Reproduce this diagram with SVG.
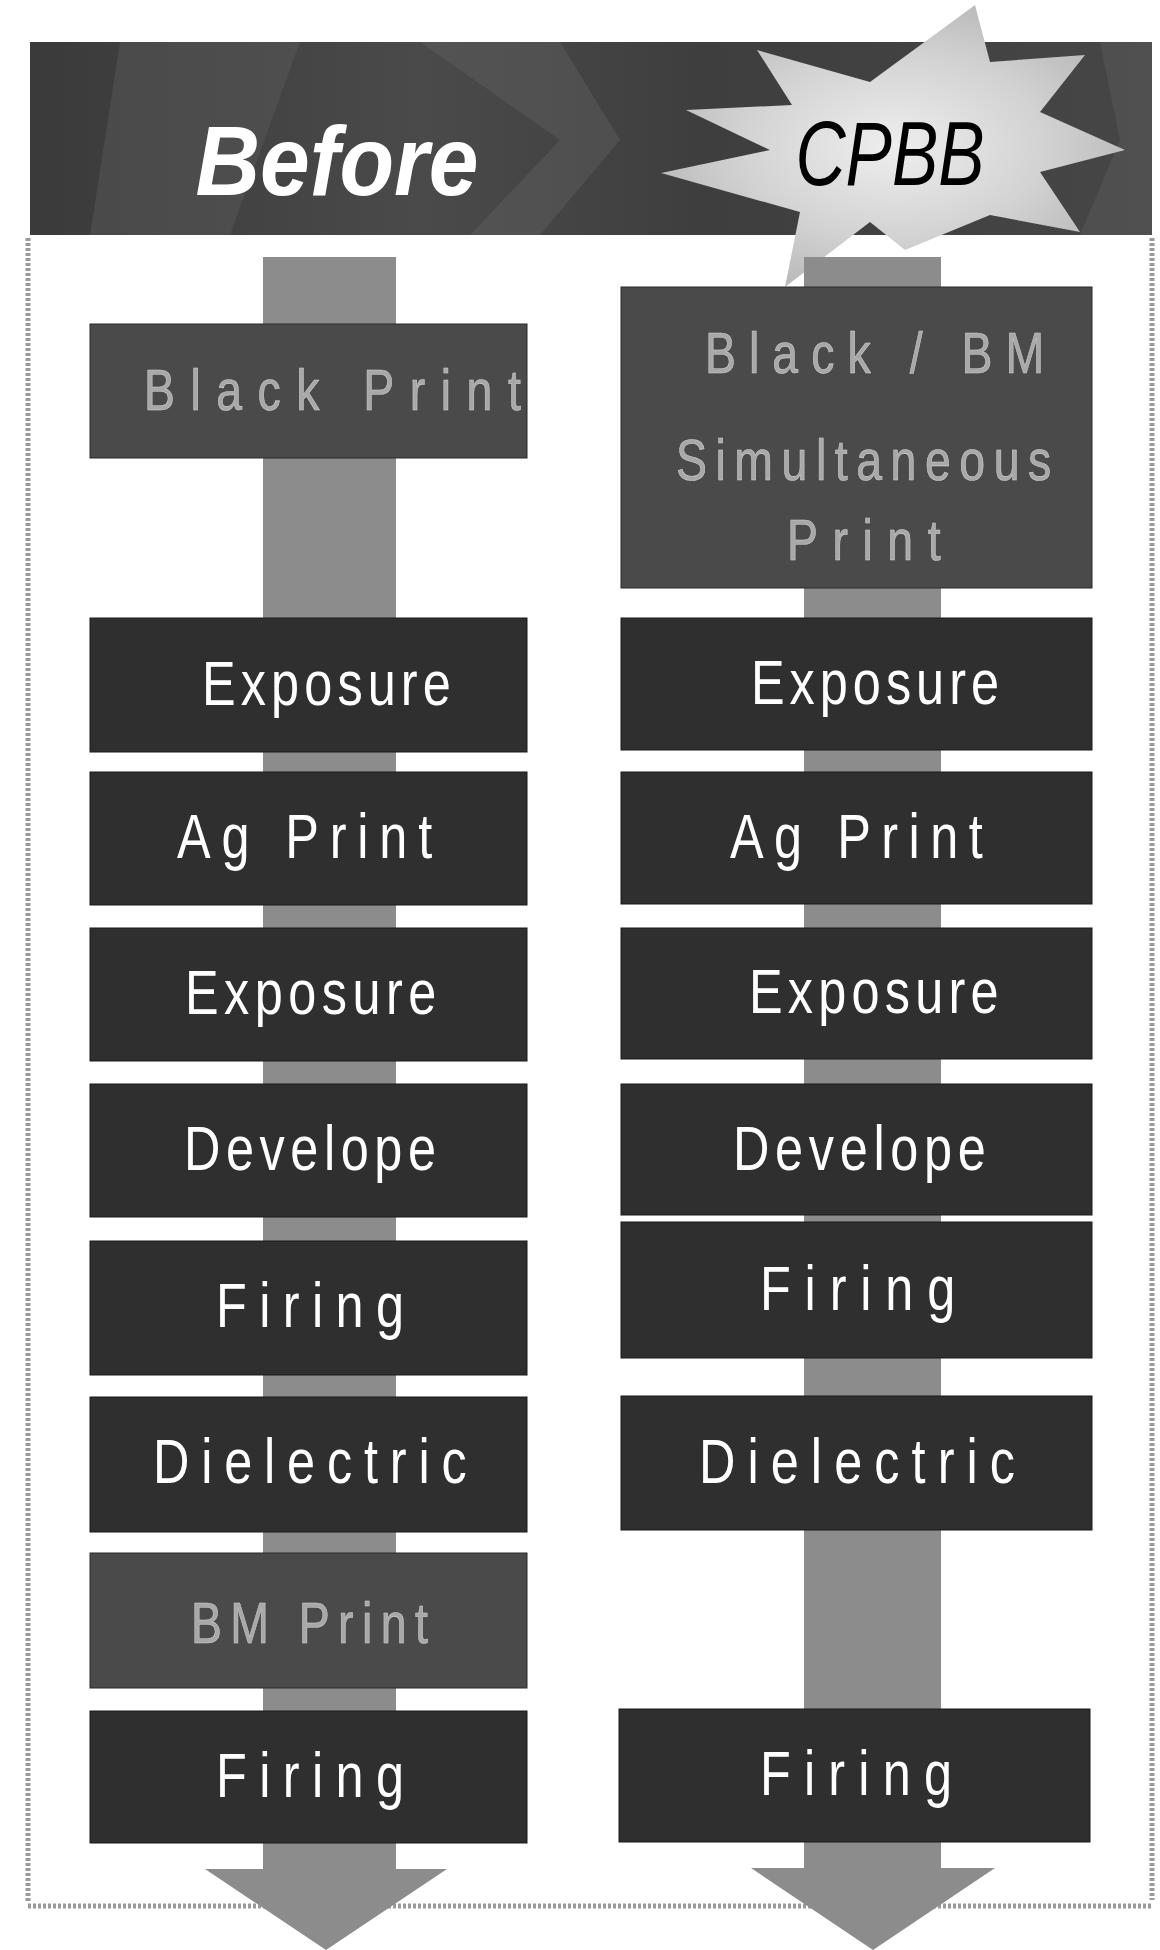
<svg xmlns="http://www.w3.org/2000/svg" width="1160" height="1950" viewBox="0 0 1160 1950">
<style>
.box{fill:#2f2f2f;stroke:#1a1a1a;stroke-width:1}
.dimbox{fill:#4a4a4a;stroke:#2a2a2a;stroke-width:1}
.lbl{font-family:"Liberation Sans","DejaVu Sans",sans-serif;font-size:63px;fill:#ffffff}
.dim{font-family:"Liberation Sans","DejaVu Sans",sans-serif;font-size:58px;fill:#a8a8a8;stroke:#d0d0d0;stroke-width:0.6}
.shaft{fill:#8c8c8c}
.border{fill:none;stroke:#9a9a9a;stroke-width:5;stroke-dasharray:3 2}
</style>
<defs>
<radialGradient id="starG" cx="0.5" cy="0.5" r="0.55">
<stop offset="0" stop-color="#eeeeee"/>
<stop offset="0.6" stop-color="#d2d2d2"/>
<stop offset="1" stop-color="#b8b8b8"/>
</radialGradient>
<linearGradient id="bandG" x1="0" y1="0" x2="1" y2="0">
<stop offset="0" stop-color="#3a3a3a"/>
<stop offset="0.35" stop-color="#4a4a4a"/>
<stop offset="0.6" stop-color="#3e3e3e"/>
<stop offset="1" stop-color="#464646"/>
</linearGradient>
</defs>

<g id="frame">
<path class="border" d="M28,238 L28,1903 M1152,238 L1152,1900 M28,1906 L1152,1906"/>
</g>

<g id="header">
<rect x="30" y="42" width="1122" height="193" fill="url(#bandG)"/>
<polygon points="120,42 300,42 230,235 90,235" fill="#5a5a5a" opacity="0.45"/>
<polygon points="420,42 560,42 620,140 540,235 470,235 560,140" fill="#666" opacity="0.35"/>
<polygon points="1100,42 1152,42 1152,235 1080,235 1120,140" fill="#5e5e5e" opacity="0.4"/>
<polygon points="975,5 990,62 1085,55 1040,112 1125,150 1040,172 1080,232 990,215 905,250 870,222 785,287 800,212 661,173 770,150 686,110 792,105 757,50 870,82" fill="url(#starG)"/>
<text x="337" y="195" text-anchor="middle" font-family="'Liberation Sans',sans-serif" font-weight="bold" font-style="italic" font-size="98" fill="#ffffff" textLength="283" lengthAdjust="spacingAndGlyphs">Before</text>
<text x="890" y="185" text-anchor="middle" font-family="'Liberation Sans',sans-serif" font-style="italic" font-size="90" fill="#000000" textLength="189" lengthAdjust="spacingAndGlyphs">CPBB</text>
</g>

<g id="connectors">
<rect class="shaft" x="263" y="257" width="133" height="1613"/>
<polygon class="shaft" points="205,1869 447,1869 326,1950"/>
<rect class="shaft" x="804" y="257" width="137" height="1612"/>
<polygon class="shaft" points="751,1868 995,1868 873,1950"/>
</g>

<g id="before-black-print">
<rect class="dimbox" x="90" y="324" width="437" height="134"/>
<text class="dim" transform="translate(144,410) scale(0.8,1)" textLength="471" lengthAdjust="spacing">Black Print</text>
</g>
<g id="before-exposure-1">
<rect class="box" x="90" y="618" width="437" height="134"/>
<text class="lbl" transform="translate(202,705) scale(0.8,1)" textLength="311" lengthAdjust="spacing">Exposure</text>
</g>
<g id="before-ag-print">
<rect class="box" x="90" y="772" width="437" height="133"/>
<text class="lbl" transform="translate(177,858) scale(0.8,1)" textLength="319" lengthAdjust="spacing">Ag Print</text>
</g>
<g id="before-exposure-2">
<rect class="box" x="90" y="928" width="437" height="133"/>
<text class="lbl" transform="translate(185,1014) scale(0.8,1)" textLength="314" lengthAdjust="spacing">Exposure</text>
</g>
<g id="before-develope">
<rect class="box" x="90" y="1084" width="437" height="133"/>
<text class="lbl" transform="translate(184,1170) scale(0.8,1)" textLength="315" lengthAdjust="spacing">Develope</text>
</g>
<g id="before-firing-1">
<rect class="box" x="90" y="1241" width="437" height="134"/>
<text class="lbl" transform="translate(216,1327) scale(0.8,1)" textLength="235" lengthAdjust="spacing">Firing</text>
</g>
<g id="before-dielectric">
<rect class="box" x="90" y="1397" width="437" height="135"/>
<text class="lbl" transform="translate(153,1483) scale(0.8,1)" textLength="392" lengthAdjust="spacing">Dielectric</text>
</g>
<g id="before-bm-print">
<rect class="dimbox" x="90" y="1553" width="437" height="135"/>
<text class="dim" transform="translate(191,1643) scale(0.8,1)" font-size="52" textLength="296" lengthAdjust="spacing">BM Print</text>
</g>
<g id="before-firing-2">
<rect class="box" x="90" y="1711" width="437" height="132"/>
<text class="lbl" transform="translate(216,1797) scale(0.8,1)" textLength="235" lengthAdjust="spacing">Firing</text>
</g>

<g id="cpbb-simultaneous-print">
<rect class="dimbox" x="621" y="287" width="471" height="301"/>
<text class="dim" transform="translate(705,373) scale(0.8,1)" textLength="424" lengthAdjust="spacing">Black / BM</text>
<text class="dim" transform="translate(676,480) scale(0.8,1)" textLength="469" lengthAdjust="spacing">Simultaneous</text>
<text class="dim" transform="translate(787,560) scale(0.8,1)" textLength="192" lengthAdjust="spacing">Print</text>
</g>
<g id="cpbb-exposure-1">
<rect class="box" x="621" y="618" width="471" height="132"/>
<text class="lbl" transform="translate(751,704) scale(0.8,1)" textLength="310" lengthAdjust="spacing">Exposure</text>
</g>
<g id="cpbb-ag-print">
<rect class="box" x="621" y="772" width="471" height="132"/>
<text class="lbl" transform="translate(730,858) scale(0.8,1)" textLength="316" lengthAdjust="spacing">Ag Print</text>
</g>
<g id="cpbb-exposure-2">
<rect class="box" x="621" y="928" width="471" height="131"/>
<text class="lbl" transform="translate(749,1013) scale(0.8,1)" textLength="312" lengthAdjust="spacing">Exposure</text>
</g>
<g id="cpbb-develope">
<rect class="box" x="621" y="1084" width="471" height="131"/>
<text class="lbl" transform="translate(733,1170) scale(0.8,1)" textLength="316" lengthAdjust="spacing">Develope</text>
</g>
<g id="cpbb-firing-1">
<rect class="box" x="621" y="1222" width="471" height="136"/>
<text class="lbl" transform="translate(760,1310) scale(0.8,1)" textLength="244" lengthAdjust="spacing">Firing</text>
</g>
<g id="cpbb-dielectric">
<rect class="box" x="621" y="1396" width="471" height="134"/>
<text class="lbl" transform="translate(699,1483) scale(0.8,1)" textLength="395" lengthAdjust="spacing">Dielectric</text>
</g>
<g id="cpbb-firing-2">
<rect class="box" x="619" y="1709" width="471" height="133"/>
<text class="lbl" transform="translate(760,1795) scale(0.8,1)" textLength="240" lengthAdjust="spacing">Firing</text>
</g>
</svg>
